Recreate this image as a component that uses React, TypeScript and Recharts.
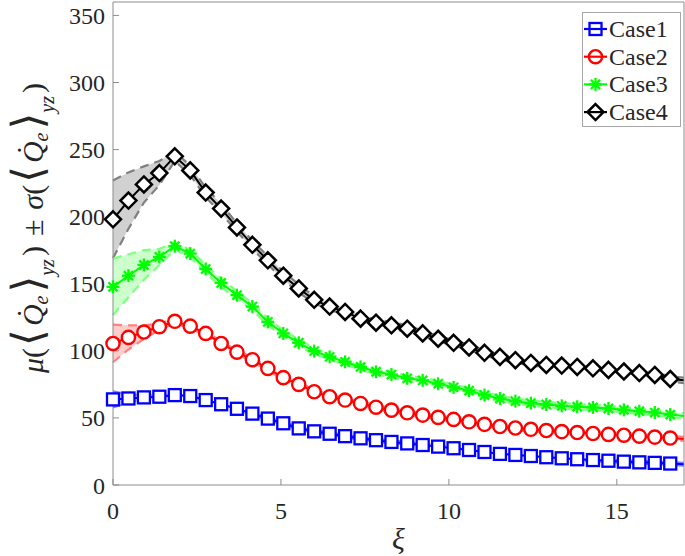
import React from 'react';
import { ComposedChart, Line, Area, XAxis, YAxis, Legend } from 'recharts';

const xi = [0, 0.46, 0.92, 1.38, 1.84, 2.3, 2.76, 3.22, 3.69, 4.15, 4.61, 5.07, 5.53, 5.99, 6.45, 6.91, 7.37, 7.83, 8.29, 8.76, 9.22, 9.68, 10.14, 10.6, 11.06, 11.52, 11.98, 12.44, 12.9, 13.36, 13.82, 14.29, 14.75, 15.21, 15.67, 16.13, 16.59, 17.0];

const case1Mean = [63.8, 64.5, 65.3, 65.8, 67, 66.3, 63.3, 60.2, 56.8, 53.2, 49.5, 46, 42.2, 40, 38.2, 36.4, 34.8, 33.4, 32.1, 31, 29.8, 28.6, 27.4, 26.1, 24.6, 23.2, 22.4, 21.6, 20.7, 19.9, 19.2, 18.6, 18.1, 17.4, 16.9, 16.5, 16, 15.5];
const case1Sd = [6, 3, 1.5, 1, 1, 1, 1, 1, 1, 1, 1, 1, 1, 1, 1, 1, 1, 1, 1, 1, 1, 1, 1, 1, 1, 1, 1, 1, 1, 1, 1, 1, 1, 1, 1, 1, 1, 1];

const case2Mean = [105.5, 110, 114, 118, 122, 118.4, 113, 105.5, 99, 93.4, 86.9, 80, 75, 69.5, 65.8, 63.3, 60.8, 58, 55.8, 53.8, 52.1, 50.4, 48.9, 47.1, 45.2, 43.6, 42.5, 41.5, 40.6, 39.8, 39.1, 38.4, 37.7, 37.1, 36.4, 35.7, 35, 34.3];
const case2Sd = [14, 9, 5, 2.5, 1.5, 1.5, 1.5, 1.5, 1.5, 1.5, 1.5, 1.5, 1.5, 1.5, 1.5, 1.5, 1.5, 1.5, 1.5, 1.5, 1.5, 1.5, 1.5, 1.5, 1.5, 1.5, 1.5, 1.5, 1.5, 1.5, 1.5, 1.5, 1.5, 1.5, 1.5, 1.5, 1.5, 1.5];

const case3Mean = [147.7, 156, 164, 170, 178, 172.5, 161, 150.6, 141.5, 133, 121.6, 113, 106, 99.8, 95.5, 91.8, 88, 84.4, 82.3, 79.5, 78, 75.5, 72.8, 70.3, 67, 64.5, 62.5, 61, 60, 59, 58.3, 57.8, 57, 56, 55, 54, 52.5, 51.5];
const case3Sd = [21, 16, 11, 6, 2.5, 3, 3, 3, 3, 2.5, 2.5, 2.5, 2.5, 2, 2, 2, 2, 2, 2, 2, 2, 2, 2, 2, 2, 2, 2, 2, 2, 2, 2, 2, 2, 2, 2, 2, 2, 2];

const case4Mean = [198, 212, 224, 232.5, 245, 234.5, 218, 206, 192, 179, 167.5, 156, 146.5, 138, 133, 129, 124, 121, 119, 116.5, 113, 109, 106, 102.5, 98.5, 95.5, 93, 91, 89.5, 89, 88, 87, 85.8, 84.6, 83.4, 82, 79, 78];
const case4Sd = [29, 21, 13.5, 9, 3.5, 3.5, 3.5, 3.5, 3, 3, 3, 3, 3, 2.5, 2.5, 2.5, 2.5, 2.5, 2.5, 2.5, 2, 2, 2, 2, 2, 2, 2, 2, 2, 2, 2, 2, 2, 2, 2, 2, 2, 2];

const seriesNames = ['Case1', 'Case2', 'Case3', 'Case4'];
const seriesColors = ['#0000ff', '#ff0000', '#00ff00', '#000000'];
const boundColors = ['#8080ff', '#ff8080', '#80ff80', '#808080'];
const bandColors = ['#0000ff', '#ff0000', '#00ff00', '#000000'];
const bandOpacity = [0.2, 0.2, 0.2, 0.18];
const xTicks = [0, 5, 10, 15];
const yTicks = [0, 50, 100, 150, 200, 250, 300, 350];

const means = [case1Mean, case2Mean, case3Mean, case4Mean];
const sds = [case1Sd, case2Sd, case3Sd, case4Sd];

const data = xi.map((x, i) => {
  const row: any = { x };
  for (let k = 0; k < 4; k++) {
    const m = means[k][i];
    const s = sds[k][i];
    row[`m${k}`] = m;
    row[`lo${k}`] = m - s;
    row[`hi${k}`] = m + s;
    row[`band${k}`] = [m - s, m + s];
  }
  return row;
});

const FONT = 'Liberation Serif';
const AXIS = '#8c8c8c';
const TXT = '#262626';

function Marker({ kind, cx, cy }: { kind: number; cx: number; cy: number }) {
  const c = seriesColors[kind];
  if (kind === 0) {
    return <rect x={cx - 6} y={cy - 6} width={12} height={12} fill="#fff" stroke={c} strokeWidth={2.3} />;
  }
  if (kind === 1) {
    return <circle cx={cx} cy={cy} r={6.6} fill="#fff" stroke={c} strokeWidth={2.4} />;
  }
  if (kind === 2) {
    const d = 4.6;
    return (
      <g stroke={c} strokeWidth={2.3} strokeLinecap="butt">
        <line x1={cx - 6.5} y1={cy} x2={cx + 6.5} y2={cy} />
        <line x1={cx} y1={cy - 6.5} x2={cx} y2={cy + 6.5} />
        <line x1={cx - d} y1={cy - d} x2={cx + d} y2={cy + d} />
        <line x1={cx - d} y1={cy + d} x2={cx + d} y2={cy - d} />
      </g>
    );
  }
  return (
    <polygon
      points={`${cx},${cy - 8} ${cx + 8},${cy} ${cx},${cy + 8} ${cx - 8},${cy}`}
      fill="#fff"
      stroke={c}
      strokeWidth={2.5}
      strokeLinejoin="miter"
    />
  );
}

const makeDot = (kind: number) => (props: any) => {
  const { cx, cy, payload, index } = props;
  if (cx == null || cy == null || payload.x >= 16.95) return <g key={`d${kind}-${index}`} />;
  return (
    <g key={`d${kind}-${index}`}>
      <Marker kind={kind} cx={cx} cy={cy} />
    </g>
  );
};

const renderLegend = () => (
  <svg width={100} height={116} style={{ display: 'block' }}>
    <rect x={0.5} y={0.5} width={98} height={114} fill="#fff" stroke="#a8a8a8" strokeWidth={1} />
    {seriesNames.map((name, k) => {
      const cy = 17 + k * 27.7;
      return (
        <g key={name}>
          <line x1={2} x2={25} y1={cy} y2={cy} stroke={seriesColors[k]} strokeWidth={2.2} />
          {k === 0 && <rect x={7.5} y={cy - 6} width={12} height={12} fill="none" stroke={seriesColors[k]} strokeWidth={2.3} />}
          {k === 1 && <circle cx={13.5} cy={cy} r={6.6} fill="none" stroke={seriesColors[k]} strokeWidth={2.4} />}
          {k === 2 && <Marker kind={2} cx={13.5} cy={cy} />}
          {k === 3 && (
            <polygon
              points={`13.5,${cy - 8} 21.5,${cy} 13.5,${cy + 8} 5.5,${cy}`}
              fill="none"
              stroke={seriesColors[k]}
              strokeWidth={2.5}
            />
          )}
          <text x={27} y={cy + 8} style={{ fontFamily: FONT }} fontSize={24} fill={TXT}>
            {name}
          </text>
        </g>
      );
    })}
  </svg>
);

export default function App() {
  return (
    <div style={{ position: 'absolute', left: 0, top: 0, width: 685, height: 556, background: '#fff', fontFamily: FONT }}>
      <ComposedChart
        width={685}
        height={556}
        data={data}
        margin={{ top: 1, right: 0, bottom: 0, left: 0 }}
        style={{ fontFamily: FONT }}
      >
        <XAxis
          dataKey="x"
          type="number"
          domain={[0, 17]}
          ticks={xTicks}
          interval={0}
          height={71}
          stroke={AXIS}
          tickSize={-6}
          tickMargin={23}
          tick={{ fontFamily: FONT, fontSize: 24, fill: TXT, style: { fontFamily: FONT } }}
          label={{
            content: (p: any) => {
              const vb = p.viewBox || {};
              return (
                <text
                  x={(vb.x || 113) + (vb.width || 571) / 2}
                  y={(vb.y || 485) + 64}
                  textAnchor="middle"
                  style={{ fontFamily: FONT }}
                  fontStyle="italic"
                  fontSize={30}
                  fill={TXT}
                >
                  ξ
                </text>
              );
            },
          }}
        />
        <XAxis
          xAxisId="top"
          orientation="top"
          dataKey="x"
          type="number"
          domain={[0, 17]}
          ticks={xTicks}
          height={1}
          stroke={AXIS}
          tickSize={-6}
          tick={false}
        />
        <YAxis
          type="number"
          domain={[0, 360]}
          ticks={yTicks}
          interval={0}
          width={113}
          stroke={AXIS}
          tickSize={-6}
          tickMargin={14}
          tick={{ fontFamily: FONT, fontSize: 24, fill: TXT, style: { fontFamily: FONT } }}
        />
        <YAxis
          yAxisId="right"
          orientation="right"
          type="number"
          domain={[0, 360]}
          ticks={yTicks}
          width={1}
          stroke={AXIS}
          tickSize={-6}
          tick={false}
        />
        <Legend
          layout="horizontal"
          verticalAlign="middle"
          align="center"
          content={renderLegend}
          wrapperStyle={{ position: 'absolute', left: 582, top: 12, width: 100, height: 116 }}
        />
        {[0, 1, 2, 3].map((k) => (
          <Area
            key={`band${k}`}
            dataKey={`band${k}`}
            type="linear"
            stroke="none"
            fill={bandColors[k]}
            fillOpacity={bandOpacity[k]}
            isAnimationActive={false}
            legendType="none"
            activeDot={false}
          />
        ))}
        {[0, 1, 2, 3].map((k) => (
          <Line
            key={`lo${k}`}
            dataKey={`lo${k}`}
            type="linear"
            stroke={boundColors[k]}
            strokeWidth={2.2}
            strokeDasharray="9 6"
            dot={false}
            activeDot={false}
            isAnimationActive={false}
            legendType="none"
          />
        ))}
        {[0, 1, 2, 3].map((k) => (
          <Line
            key={`hi${k}`}
            dataKey={`hi${k}`}
            type="linear"
            stroke={boundColors[k]}
            strokeWidth={2.2}
            strokeDasharray="9 6"
            dot={false}
            activeDot={false}
            isAnimationActive={false}
            legendType="none"
          />
        ))}
        {[0, 1, 2, 3].map((k) => (
          <Line
            key={`m${k}`}
            dataKey={`m${k}`}
            name={seriesNames[k]}
            type="linear"
            stroke={seriesColors[k]}
            strokeWidth={2}
            dot={makeDot(k)}
            activeDot={false}
            isAnimationActive={false}
          />
        ))}
      </ComposedChart>
      <svg
        width={80}
        height={556}
        style={{ position: 'absolute', left: 0, top: 0, pointerEvents: 'none' }}
      >
        <text
          transform="rotate(-90)"
          x={-228}
          y={43}
          textAnchor="middle"
          style={{ fontFamily: FONT }}
          fontSize={30}
          fill={TXT}
        >
          <tspan fontStyle="italic">μ</tspan>
          <tspan>(</tspan>
          <tspan style={{ fontFamily: 'DejaVu Sans' }} fontSize={43} dx={2} dy={-1}>⟨</tspan>
          <tspan fontStyle="italic" dx={3} dy={1}>Q̇</tspan>
          <tspan fontStyle="italic" fontSize={20} dy={5}>e</tspan>
          <tspan style={{ fontFamily: 'DejaVu Sans' }} fontSize={43} dx={3} dy={-6}>⟩</tspan>
          <tspan fontStyle="italic" fontSize={20} dy={12}>yz</tspan>
          <tspan dx={3} dy={-11}>)</tspan>
          <tspan dx={10}>±</tspan>
          <tspan dx={10} fontStyle="italic">σ</tspan>
          <tspan>(</tspan>
          <tspan style={{ fontFamily: 'DejaVu Sans' }} fontSize={43} dx={2} dy={-1}>⟨</tspan>
          <tspan fontStyle="italic" dx={3} dy={1}>Q̇</tspan>
          <tspan fontStyle="italic" fontSize={20} dy={5}>e</tspan>
          <tspan style={{ fontFamily: 'DejaVu Sans' }} fontSize={43} dx={3} dy={-6}>⟩</tspan>
          <tspan fontStyle="italic" fontSize={20} dy={12}>yz</tspan>
          <tspan dx={3} dy={-11}>)</tspan>
        </text>
      </svg>
    </div>
  );
}
